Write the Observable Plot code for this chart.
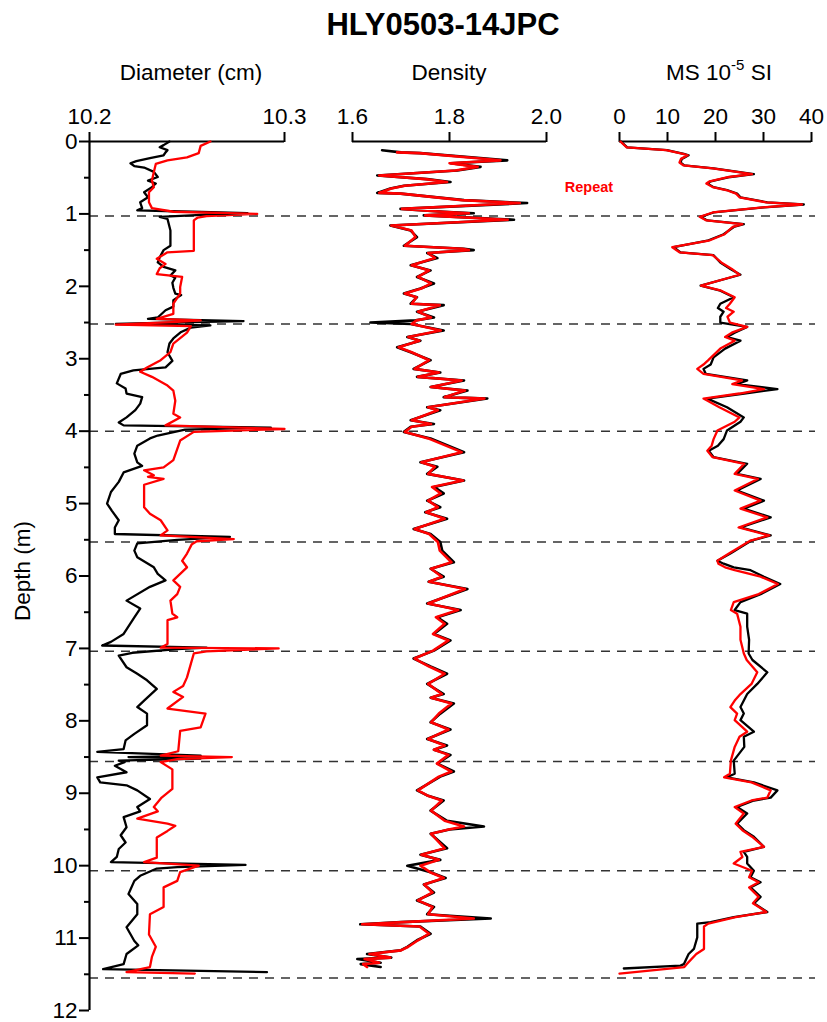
<!DOCTYPE html>
<html>
<head>
<meta charset="utf-8">
<script src="https://cdn.jsdelivr.net/npm/d3@7"></script>
<script src="https://cdn.jsdelivr.net/npm/@observablehq/plot@0.6"></script>
<style>
  html, body { margin: 0; padding: 0; background: white; }
  #chart { position: relative; width: 827px; height: 1022px; font-family: "Liberation Sans", Arial, sans-serif; color: black; }
  #chart svg { position: absolute; left: 0; top: 0; }
  .lbl { position: absolute; transform: translate(-50%, -50%); white-space: nowrap; }
</style>
</head>
<body>
<div id="chart"></div>
<script>
// ---------------- DATA ----------------
const title = "HLY0503-14JPC";
const depthTicks = [0,1,2,3,4,5,6,7,8,9,10,11,12];
const depthMinorTicks = [0.5,1.5,2.5,3.5,4.5,5.5,6.5,7.5,8.5,9.5,10.5,11.5];
const sectionBreaks = [1.03, 2.52, 4.0, 5.53, 7.04, 8.56, 10.07, 11.55];

const diameterTicks = [10.2, 10.3];
const densityTicks = [1.6, 1.8, 2.0];
const msTicks = [0, 10, 20, 30, 40];

// [depth (m), value]
const diameterOriginal = [[0.00,10.241],[0.05,10.238],[0.08,10.236],[0.12,10.240],[0.15,10.239],[0.19,10.238],[0.23,10.231],[0.27,10.224],[0.30,10.221],[0.34,10.223],[0.36,10.228],[0.42,10.233],[0.49,10.235],[0.54,10.230],[0.58,10.234],[0.63,10.232],[0.70,10.228],[0.77,10.230],[0.84,10.226],[0.92,10.227],[0.95,10.2245],[0.97,10.253],[0.99,10.281],[1.01,10.26],[1.04,10.236],[1.07,10.240],[1.23,10.2415],[1.44,10.2415],[1.50,10.238],[1.60,10.236],[1.67,10.235],[1.73,10.238],[1.78,10.244],[1.85,10.2415],[1.88,10.244],[1.95,10.2425],[2.02,10.243],[2.10,10.244],[2.12,10.247],[2.19,10.243],[2.28,10.243],[2.33,10.239],[2.43,10.235],[2.45,10.230],[2.48,10.279],[2.50,10.240],[2.52,10.2135],[2.54,10.262],[2.57,10.252],[2.63,10.247],[2.72,10.243],[2.79,10.241],[2.91,10.240],[3.03,10.2425],[3.12,10.239],[3.16,10.2225],[3.21,10.216],[3.34,10.214],[3.41,10.2185],[3.48,10.219],[3.53,10.227],[3.62,10.226],[3.71,10.2235],[3.81,10.219],[3.88,10.215],[3.92,10.2175],[3.95,10.293],[3.98,10.249],[4.06,10.235],[4.10,10.231],[4.20,10.2245],[4.31,10.223],[4.43,10.2245],[4.48,10.227],[4.57,10.2175],[4.70,10.215],[4.84,10.211],[5.00,10.209],[5.10,10.2115],[5.23,10.215],[5.33,10.213],[5.42,10.213],[5.46,10.272],[5.50,10.245],[5.55,10.2245],[5.65,10.223],[5.74,10.2245],[5.88,10.233],[5.97,10.235],[6.06,10.239],[6.15,10.231],[6.34,10.219],[6.45,10.226],[6.57,10.223],[6.80,10.2175],[6.91,10.211],[6.96,10.2065],[6.99,10.26],[7.01,10.245],[7.06,10.222],[7.10,10.215],[7.26,10.219],[7.35,10.2245],[7.44,10.2295],[7.56,10.2345],[7.72,10.228],[7.81,10.2245],[7.90,10.2295],[8.06,10.2295],[8.18,10.223],[8.27,10.2185],[8.39,10.2175],[8.43,10.204],[8.48,10.257],[8.50,10.220],[8.52,10.257],[8.55,10.215],[8.57,10.218],[8.62,10.213],[8.71,10.219],[8.78,10.204],[8.85,10.2055],[8.89,10.219],[8.96,10.2245],[9.08,10.231],[9.19,10.2245],[9.25,10.226],[9.33,10.2175],[9.47,10.219],[9.58,10.216],[9.68,10.2185],[9.77,10.215],[9.88,10.214],[9.95,10.211],[9.99,10.280],[10.02,10.245],[10.04,10.2345],[10.14,10.226],[10.21,10.223],[10.39,10.220],[10.53,10.2245],[10.67,10.2245],[10.85,10.219],[11.04,10.223],[11.10,10.225],[11.22,10.219],[11.36,10.2175],[11.43,10.207],[11.47,10.291]];

const diameterRepeat = [[0.00,10.262],[0.06,10.257],[0.16,10.256],[0.22,10.250],[0.26,10.240],[0.31,10.234],[0.42,10.233],[0.54,10.232],[0.63,10.233],[0.70,10.2305],[0.84,10.2305],[0.92,10.232],[0.97,10.243],[1.00,10.286],[1.03,10.26],[1.05,10.2555],[1.09,10.2535],[1.51,10.2535],[1.53,10.240],[1.62,10.2345],[1.69,10.239],[1.75,10.236],[1.83,10.2345],[1.87,10.2475],[2.01,10.2465],[2.10,10.2465],[2.24,10.243],[2.38,10.243],[2.45,10.2345],[2.47,10.257],[2.49,10.245],[2.53,10.2135],[2.55,10.252],[2.64,10.250],[2.79,10.243],[2.91,10.2415],[3.02,10.2365],[3.12,10.2295],[3.18,10.226],[3.25,10.232],[3.37,10.240],[3.44,10.243],[3.58,10.244],[3.76,10.243],[3.81,10.2465],[3.92,10.239],[3.97,10.300],[4.01,10.2535],[4.13,10.2465],[4.40,10.243],[4.50,10.238],[4.54,10.228],[4.61,10.233],[4.63,10.230],[4.66,10.238],[4.74,10.228],[5.05,10.228],[5.14,10.231],[5.23,10.2365],[5.37,10.240],[5.44,10.2365],[5.49,10.274],[5.52,10.255],[5.56,10.2525],[5.69,10.250],[5.79,10.2475],[5.88,10.250],[6.06,10.243],[6.15,10.2465],[6.25,10.245],[6.34,10.2415],[6.52,10.2425],[6.57,10.245],[6.61,10.240],[6.94,10.240],[6.99,10.2365],[7.00,10.297],[7.04,10.26],[7.07,10.2535],[7.21,10.252],[7.40,10.250],[7.52,10.248],[7.60,10.243],[7.67,10.248],[7.83,10.240],[7.90,10.2595],[8.09,10.257],[8.14,10.2465],[8.42,10.2455],[8.48,10.2365],[8.50,10.273],[8.53,10.245],[8.57,10.2365],[8.67,10.2425],[8.94,10.2425],[9.06,10.237],[9.19,10.233],[9.25,10.235],[9.35,10.2245],[9.42,10.240],[9.45,10.244],[9.52,10.240],[9.61,10.2345],[9.89,10.2345],[9.95,10.228],[10.00,10.256],[10.09,10.2465],[10.21,10.245],[10.30,10.238],[10.57,10.238],[10.67,10.231],[10.95,10.2305],[11.12,10.234],[11.26,10.232],[11.40,10.231],[11.47,10.219],[11.49,10.254]];

const densityOriginal = [[0.12,1.661],[0.15,1.700],[0.16,1.740],[0.26,1.919],[0.30,1.802],[0.35,1.864],[0.40,1.816],[0.47,1.651],[0.52,1.754],[0.56,1.802],[0.61,1.706],[0.65,1.678],[0.71,1.651],[0.72,1.699],[0.81,1.830],[0.85,1.960],[0.93,1.699],[0.97,1.788],[0.99,1.850],[1.02,1.747],[1.08,1.933],[1.16,1.678],[1.23,1.720],[1.32,1.733],[1.44,1.706],[1.48,1.830],[1.50,1.850],[1.54,1.754],[1.61,1.775],[1.71,1.720],[1.78,1.761],[1.87,1.733],[1.96,1.768],[2.03,1.740],[2.10,1.706],[2.15,1.733],[2.24,1.720],[2.26,1.788],[2.35,1.733],[2.43,1.768],[2.47,1.730],[2.50,1.637],[2.52,1.720],[2.61,1.788],[2.70,1.713],[2.75,1.740],[2.84,1.692],[2.91,1.720],[3.02,1.761],[3.14,1.726],[3.19,1.781],[3.25,1.733],[3.30,1.830],[3.39,1.761],[3.44,1.837],[3.53,1.788],[3.55,1.878],[3.67,1.754],[3.71,1.781],[3.85,1.720],[3.90,1.768],[3.94,1.720],[4.01,1.706],[4.10,1.761],[4.29,1.830],[4.43,1.740],[4.49,1.775],[4.59,1.754],[4.68,1.830],[4.77,1.768],[4.86,1.788],[4.96,1.754],[5.05,1.781],[5.12,1.750],[5.21,1.795],[5.35,1.726],[5.42,1.761],[5.53,1.781],[5.65,1.785],[5.81,1.809],[5.90,1.761],[6.01,1.788],[6.08,1.757],[6.18,1.837],[6.38,1.754],[6.47,1.823],[6.57,1.775],[6.66,1.795],[6.80,1.768],[6.89,1.802],[7.03,1.768],[7.14,1.726],[7.25,1.761],[7.35,1.795],[7.49,1.754],[7.63,1.788],[7.68,1.761],[7.76,1.809],[7.90,1.781],[8.02,1.761],[8.12,1.802],[8.25,1.754],[8.34,1.795],[8.40,1.768],[8.47,1.802],[8.59,1.775],[8.70,1.809],[8.77,1.781],[8.96,1.733],[9.03,1.754],[9.10,1.788],[9.24,1.761],[9.38,1.795],[9.46,1.871],[9.50,1.800],[9.56,1.761],[9.76,1.795],[9.85,1.740],[9.92,1.781],[10.00,1.713],[10.09,1.761],[10.17,1.792],[10.26,1.747],[10.37,1.768],[10.48,1.733],[10.57,1.768],[10.67,1.754],[10.73,1.885],[10.78,1.700],[10.81,1.616],[10.84,1.740],[10.94,1.761],[11.03,1.733],[11.12,1.713],[11.17,1.699],[11.22,1.630],[11.27,1.680],[11.29,1.610],[11.34,1.658],[11.36,1.617],[11.40,1.658]];

const densityRepeat = [[0.15,1.692],[0.16,1.738],[0.26,1.905],[0.30,1.800],[0.35,1.858],[0.40,1.812],[0.47,1.655],[0.52,1.750],[0.56,1.795],[0.61,1.708],[0.65,1.680],[0.71,1.655],[0.72,1.700],[0.81,1.825],[0.85,1.945],[0.93,1.702],[0.97,1.785],[0.99,1.840],[1.02,1.750],[1.08,1.920],[1.16,1.680],[1.23,1.722],[1.32,1.730],[1.44,1.708],[1.48,1.826],[1.50,1.840],[1.54,1.756],[1.61,1.770],[1.71,1.722],[1.78,1.758],[1.87,1.735],[1.96,1.762],[2.03,1.742],[2.10,1.708],[2.15,1.732],[2.24,1.722],[2.26,1.780],[2.35,1.735],[2.43,1.762],[2.47,1.732],[2.52,1.722],[2.61,1.782],[2.70,1.715],[2.75,1.738],[2.84,1.695],[2.91,1.722],[3.02,1.758],[3.14,1.728],[3.19,1.778],[3.25,1.735],[3.30,1.825],[3.39,1.762],[3.44,1.832],[3.53,1.790],[3.55,1.872],[3.67,1.756],[3.71,1.776],[3.85,1.722],[3.90,1.762],[3.94,1.722],[4.01,1.708],[4.10,1.756],[4.29,1.825],[4.43,1.742],[4.49,1.770],[4.59,1.756],[4.68,1.828],[4.77,1.764],[4.86,1.782],[4.96,1.756],[5.05,1.776],[5.12,1.752],[5.21,1.790],[5.35,1.728],[5.42,1.758],[5.53,1.776],[5.65,1.780],[5.81,1.804],[5.90,1.762],[6.01,1.784],[6.08,1.758],[6.18,1.832],[6.38,1.756],[6.47,1.818],[6.57,1.772],[6.66,1.790],[6.80,1.766],[6.89,1.798],[7.03,1.766],[7.14,1.728],[7.25,1.758],[7.35,1.790],[7.49,1.756],[7.63,1.784],[7.68,1.762],[7.76,1.804],[7.90,1.778],[8.02,1.762],[8.12,1.798],[8.25,1.756],[8.34,1.790],[8.40,1.768],[8.47,1.798],[8.59,1.774],[8.70,1.804],[8.77,1.778],[8.96,1.735],[9.03,1.754],[9.10,1.784],[9.24,1.762],[9.38,1.790],[9.46,1.830],[9.50,1.798],[9.56,1.762],[9.76,1.790],[9.85,1.742],[9.92,1.778],[10.00,1.740],[10.09,1.760],[10.17,1.788],[10.26,1.748],[10.37,1.765],[10.48,1.735],[10.57,1.765],[10.67,1.756],[10.73,1.850],[10.78,1.705],[10.81,1.620],[10.84,1.738],[10.94,1.758],[11.03,1.735],[11.12,1.715],[11.17,1.700],[11.22,1.635],[11.27,1.678],[11.29,1.625],[11.34,1.655],[11.36,1.622],[11.40,1.630]];

const msOriginal = [[0.00,0.3],[0.02,0.6],[0.08,1.6],[0.12,9.9],[0.17,13.4],[0.19,14.4],[0.24,13.0],[0.29,12.7],[0.33,13.5],[0.37,19.6],[0.45,28.0],[0.49,23.1],[0.55,19.0],[0.58,18.3],[0.63,19.6],[0.67,22.4],[0.72,24.5],[0.77,25.2],[0.84,30.8],[0.87,38.4],[0.91,30.1],[0.98,19.6],[1.04,16.9],[1.09,18.3],[1.14,25.9],[1.18,23.8],[1.28,21.7],[1.37,18.3],[1.46,11.3],[1.53,12.7],[1.57,19.6],[1.67,21.0],[1.76,23.1],[1.84,25.2],[1.99,16.9],[2.06,21.0],[2.15,23.8],[2.24,21.0],[2.30,20.5],[2.35,21.7],[2.42,21.0],[2.50,21.0],[2.56,26.6],[2.64,24.0],[2.70,22.4],[2.75,25.2],[2.86,22.0],[2.98,19.6],[3.08,19.0],[3.14,17.5],[3.21,18.0],[3.30,26.6],[3.35,24.5],[3.42,32.9],[3.48,26.0],[3.55,18.3],[3.67,22.4],[3.81,25.9],[3.87,25.2],[3.99,22.4],[4.11,21.7],[4.20,20.5],[4.27,18.6],[4.36,19.6],[4.45,26.6],[4.59,24.5],[4.66,29.4],[4.82,24.5],[4.96,30.1],[5.07,25.9],[5.19,31.5],[5.33,25.2],[5.44,31.5],[5.51,27.5],[5.69,23.1],[5.79,20.4],[5.83,21.7],[5.88,23.8],[5.92,27.3],[6.01,30.1],[6.11,33.5],[6.25,29.4],[6.36,25.2],[6.47,24.0],[6.52,26.6],[6.70,26.6],[6.88,27.0],[7.07,26.9],[7.16,27.7],[7.33,30.8],[7.49,28.7],[7.63,26.6],[7.72,25.9],[7.81,25.2],[7.90,25.9],[7.99,25.2],[8.15,28.0],[8.22,25.9],[8.36,26.0],[8.55,23.8],[8.73,24.0],[8.78,22.4],[8.85,28.0],[8.96,32.9],[9.06,31.5],[9.10,28.0],[9.19,24.5],[9.28,26.6],[9.42,24.5],[9.51,25.9],[9.60,28.0],[9.74,30.1],[9.81,25.9],[9.88,26.6],[9.97,26.6],[10.07,28.0],[10.16,27.3],[10.23,29.4],[10.30,27.3],[10.43,29.4],[10.52,28.0],[10.64,30.8],[10.71,23.8],[10.78,19.0],[10.80,16.2],[10.99,16.2],[11.15,15.5],[11.22,14.4],[11.36,13.4],[11.38,12.7],[11.42,0.9]];

const msRepeat = [[0.00,0.2],[0.02,0.5],[0.08,1.5],[0.12,9.7],[0.17,13.2],[0.19,14.2],[0.24,12.8],[0.29,12.5],[0.33,13.3],[0.37,19.4],[0.45,27.6],[0.49,22.8],[0.55,18.8],[0.58,18.1],[0.63,19.4],[0.67,22.2],[0.72,24.3],[0.77,25.0],[0.84,30.5],[0.87,38.0],[0.91,29.8],[0.98,19.4],[1.04,16.7],[1.09,18.1],[1.14,25.6],[1.18,23.6],[1.28,21.9],[1.37,18.6],[1.46,11.0],[1.53,12.5],[1.57,19.4],[1.67,21.2],[1.76,23.4],[1.84,25.0],[1.99,17.0],[2.06,21.2],[2.15,24.0],[2.24,23.0],[2.30,22.2],[2.35,23.8],[2.42,22.5],[2.50,23.0],[2.56,26.6],[2.64,23.4],[2.70,22.0],[2.75,24.0],[2.86,21.0],[3.02,18.5],[3.08,17.5],[3.14,16.2],[3.21,17.5],[3.30,25.5],[3.35,23.5],[3.42,30.1],[3.48,25.0],[3.55,17.5],[3.67,20.8],[3.81,25.0],[3.87,24.0],[3.99,20.4],[4.11,19.6],[4.20,19.2],[4.27,18.3],[4.36,19.4],[4.45,26.0],[4.59,24.0],[4.66,28.8],[4.82,24.0],[4.96,29.4],[5.07,25.2],[5.19,30.8],[5.33,24.8],[5.44,31.2],[5.51,27.3],[5.69,22.8],[5.79,20.4],[5.83,20.6],[5.88,22.0],[5.92,24.0],[6.01,29.4],[6.11,33.0],[6.25,29.0],[6.36,23.8],[6.47,23.2],[6.52,24.5],[6.70,25.2],[6.88,25.2],[7.07,25.9],[7.16,26.5],[7.33,28.7],[7.49,27.5],[7.63,25.2],[7.72,24.0],[7.81,23.1],[7.90,24.5],[7.99,24.0],[8.15,26.6],[8.22,25.0],[8.36,24.0],[8.55,23.2],[8.73,23.0],[8.78,21.8],[8.85,27.5],[8.96,31.5],[9.06,30.8],[9.10,27.5],[9.19,24.0],[9.28,25.9],[9.42,24.2],[9.51,25.6],[9.60,27.6],[9.74,30.1],[9.81,25.2],[9.88,25.6],[9.97,23.8],[10.07,27.6],[10.16,27.0],[10.23,29.0],[10.30,27.0],[10.43,29.0],[10.52,27.8],[10.64,30.6],[10.71,24.2],[10.80,18.5],[10.84,17.6],[11.15,17.6],[11.22,16.0],[11.36,14.0],[11.40,13.5],[11.49,0.0]];

// ---------------- LAYOUT ----------------
const W = 827, H = 1022;
const TOP = 141, BOTTOM = 12;
const FONT = "'Liberation Sans', Arial, sans-serif";
const FS = 22.5;
const baseStyle = {background: "transparent", fontFamily: FONT, fontSize: FS + "px", color: "black", overflow: "visible"};
const yOpt = {domain: [0, 12], reverse: true};
const accX = d => d[1], accY = d => d[0];

function panel({left, right, domain, ticks, fmt, original, repeat, depthAxis, lw}) {
  const marks = [
    Plot.axisX(ticks, {anchor: "top", tickSize: 10, tickPadding: 8, tickFormat: fmt, strokeWidth: 2, label: null, fontSize: FS}),
    Plot.ruleY([0], {strokeWidth: 2})
  ];
  if (depthAxis) {
    marks.push(
      Plot.axisY(depthTicks, {anchor: "left", tickSize: 10, tickPadding: 2, tickFormat: d => String(d), strokeWidth: 2, label: null, fontSize: FS}),
      Plot.axisY(depthMinorTicks, {anchor: "left", tickSize: 5, tickFormat: () => "", strokeWidth: 2, label: null}),
      Plot.ruleX([domain[0]], {strokeWidth: 2.2})
    );
  }
  marks.push(
    Plot.line(original, {x: accX, y: accY, stroke: "black", strokeWidth: lw}),
    Plot.line(repeat, {x: accX, y: accY, stroke: "#ff0000", strokeWidth: lw})
  );
  return Plot.plot({
    width: W, height: H,
    marginTop: TOP, marginBottom: BOTTOM, marginLeft: left, marginRight: W - right,
    x: {domain},
    y: depthAxis ? yOpt : {...yOpt, axis: null},
    style: baseStyle,
    marks
  });
}

const chart = document.getElementById("chart");

// dashed section-break lines (underneath)
chart.appendChild(Plot.plot({
  width: W, height: H,
  marginTop: TOP, marginBottom: BOTTOM, marginLeft: 89, marginRight: 12,
  x: {domain: [0, 1], axis: null},
  y: {...yOpt, axis: null},
  style: baseStyle,
  marks: [Plot.ruleY(sectionBreaks, {stroke: "#333", strokeWidth: 1.5, strokeDasharray: "9,7"})]
}));

const f1 = d3.format(".1f");
chart.appendChild(panel({left: 89, right: 284, domain: [10.2, 10.3], ticks: diameterTicks, fmt: f1, original: diameterOriginal, repeat: diameterRepeat, depthAxis: true, lw: 2.3}));
chart.appendChild(panel({left: 352, right: 546, domain: [1.6, 2.0], ticks: densityTicks, fmt: f1, original: densityOriginal, repeat: densityRepeat, depthAxis: false, lw: 2.6}));
chart.appendChild(panel({left: 619, right: 811, domain: [0, 40], ticks: msTicks, fmt: d => String(d), original: msOriginal, repeat: msRepeat, depthAxis: false, lw: 2.3}));

// text labels
function label(html, x, y, css) {
  const el = document.createElement("div");
  el.className = "lbl";
  el.innerHTML = html;
  el.style.left = x + "px";
  el.style.top = y + "px";
  Object.assign(el.style, css || {});
  chart.appendChild(el);
  return el;
}
label(title, 443, 25, {fontSize: "31px", fontWeight: "bold"});
label("Diameter (cm)", 191, 73, {fontSize: FS + "px"});
label("Density", 449, 73, {fontSize: FS + "px"});
label('MS 10<sup style="font-size:15px;vertical-align:0;position:relative;top:-10px">-5</sup> SI', 719, 73, {fontSize: FS + "px"});
label("Depth (m)", 23, 571, {fontSize: FS + "px", transform: "translate(-50%,-50%) rotate(-90deg)"});
label("Repeat", 589, 187, {fontSize: "14.5px", fontWeight: "bold", color: "#ff0000"});
</script>
</body>
</html>
